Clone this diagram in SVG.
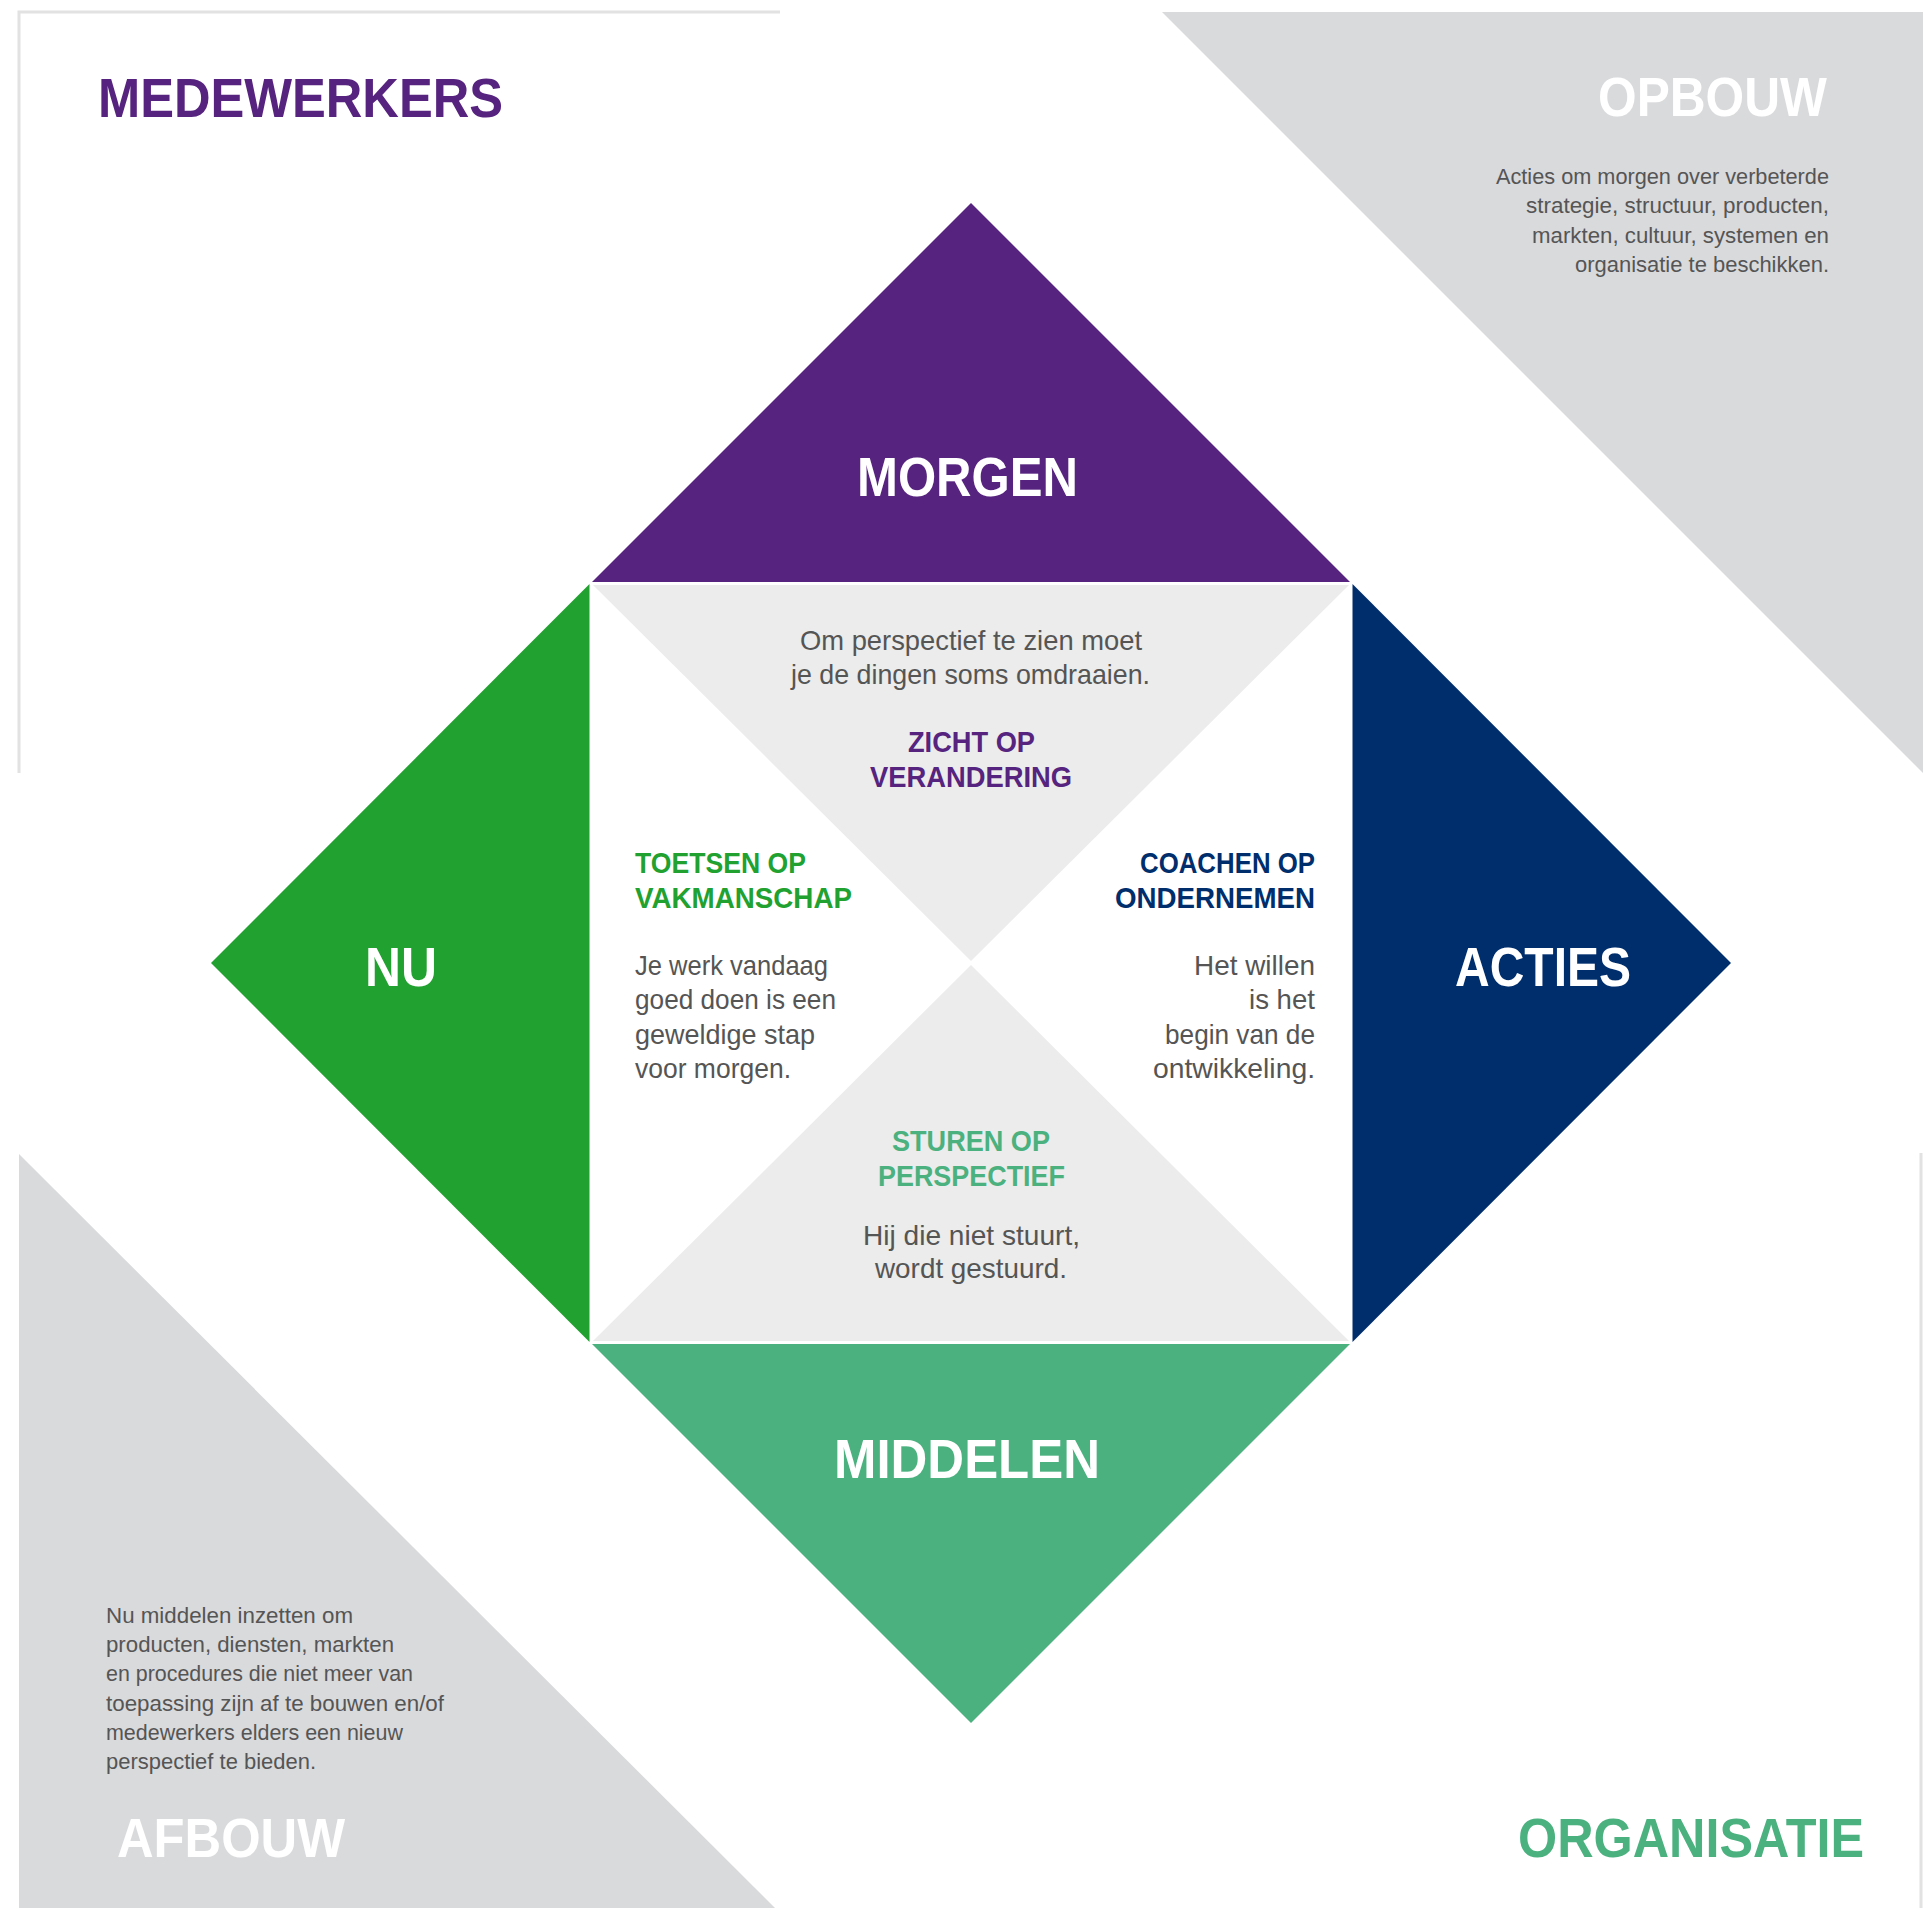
<svg xmlns="http://www.w3.org/2000/svg" width="1923" height="1908" viewBox="0 0 1923 1908">
<style>
.h{font-family:"Liberation Sans","Open Sans",sans-serif;font-weight:bold;font-size:56px}
.l{font-family:"Liberation Sans","Open Sans",sans-serif;font-weight:bold;font-size:30px}
.b{font-family:"Liberation Sans","Open Sans",sans-serif;font-size:28px;fill:#555555}
.s{font-family:"Liberation Sans","Open Sans",sans-serif;font-size:22px;fill:#555555}
.w{fill:#ffffff}
.pur{fill:#56237f}
.grn{fill:#21a12f}
.nav{fill:#002e6d}
.mgr{fill:#4bb17f}
.frame{fill:none;stroke:#e2e2e2;stroke-width:3}
</style>
<rect x="0" y="0" width="1923" height="1908" fill="#ffffff"/>
<g id="background">
<polygon points="1162,12 1923,12 1923,773" fill="#d9dadc"/>
<polygon points="19,1154 19,1908 775,1908" fill="#d9dadc"/>
<polyline class="frame" points="780,12 19,12 19,773"/>
<line class="frame" x1="1921" y1="1153" x2="1921" y2="1908"/>
</g>
<g id="corner-medewerkers">
<text class="h pur" x="98" y="117" textLength="405" lengthAdjust="spacingAndGlyphs">MEDEWERKERS</text>
</g>
<g id="corner-opbouw">
<text class="h w" x="1598" y="116" textLength="229" lengthAdjust="spacingAndGlyphs">OPBOUW</text>
<text class="s" x="1496" y="184" textLength="333" lengthAdjust="spacingAndGlyphs">Acties om morgen over verbeterde</text>
<text class="s" x="1526" y="213" textLength="303" lengthAdjust="spacingAndGlyphs">strategie, structuur, producten,</text>
<text class="s" x="1532" y="243" textLength="297" lengthAdjust="spacingAndGlyphs">markten, cultuur, systemen en</text>
<text class="s" x="1575" y="272" textLength="254" lengthAdjust="spacingAndGlyphs">organisatie te beschikken.</text>
</g>
<g id="corner-afbouw">
<text class="s" x="106" y="1623" textLength="247" lengthAdjust="spacingAndGlyphs">Nu middelen inzetten om</text>
<text class="s" x="106" y="1652" textLength="288" lengthAdjust="spacingAndGlyphs">producten, diensten, markten</text>
<text class="s" x="106" y="1681" textLength="307" lengthAdjust="spacingAndGlyphs">en procedures die niet meer van</text>
<text class="s" x="106" y="1711" textLength="338" lengthAdjust="spacingAndGlyphs">toepassing zijn af te bouwen en/of</text>
<text class="s" x="106" y="1740" textLength="297" lengthAdjust="spacingAndGlyphs">medewerkers elders een nieuw</text>
<text class="s" x="106" y="1769" textLength="210" lengthAdjust="spacingAndGlyphs">perspectief te bieden.</text>
<text class="h w" x="117" y="1857" textLength="228" lengthAdjust="spacingAndGlyphs">AFBOUW</text>
</g>
<g id="corner-organisatie">
<text class="h mgr" x="1518" y="1857" textLength="346" lengthAdjust="spacingAndGlyphs">ORGANISATIE</text>
</g>
<g id="inner">
<polygon points="593,585 1349,585 971,961" fill="#ebeceb"/>
<polygon points="593,1341 1349,1341 971,965" fill="#ebeceb"/>
</g>
<g id="morgen">
<polygon class="pur" points="971,203 1350,582 592,582"/>
<text class="h w" x="857" y="496" textLength="221" lengthAdjust="spacingAndGlyphs">MORGEN</text>
</g>
<g id="nu">
<polygon class="grn" points="211,963 589.5,584 589.5,1342"/>
<text class="h w" x="365" y="986" textLength="72" lengthAdjust="spacingAndGlyphs">NU</text>
</g>
<g id="acties">
<polygon class="nav" points="1731,963 1352.5,584 1352.5,1342"/>
<text class="h w" x="1455" y="986" textLength="176" lengthAdjust="spacingAndGlyphs">ACTIES</text>
</g>
<g id="middelen">
<polygon class="mgr" points="971,1723 1350,1344 592,1344"/>
<text class="h w" x="834" y="1478" textLength="266" lengthAdjust="spacingAndGlyphs">MIDDELEN</text>
</g>
<g id="zicht">
<text class="b" x="800" y="650" textLength="342" lengthAdjust="spacingAndGlyphs">Om perspectief te zien moet</text>
<text class="b" x="791" y="684" textLength="359" lengthAdjust="spacingAndGlyphs">je de dingen soms omdraaien.</text>
<text class="l pur" x="908" y="752" textLength="127" lengthAdjust="spacingAndGlyphs">ZICHT OP</text>
<text class="l pur" x="870" y="787" textLength="202" lengthAdjust="spacingAndGlyphs">VERANDERING</text>
</g>
<g id="toetsen">
<text class="l grn" x="635" y="873" textLength="171" lengthAdjust="spacingAndGlyphs">TOETSEN OP</text>
<text class="l grn" x="635" y="908" textLength="217" lengthAdjust="spacingAndGlyphs">VAKMANSCHAP</text>
<text class="b" x="635" y="975" textLength="193" lengthAdjust="spacingAndGlyphs">Je werk vandaag</text>
<text class="b" x="635" y="1009" textLength="201" lengthAdjust="spacingAndGlyphs">goed doen is een</text>
<text class="b" x="635" y="1044" textLength="180" lengthAdjust="spacingAndGlyphs">geweldige stap</text>
<text class="b" x="635" y="1078" textLength="156" lengthAdjust="spacingAndGlyphs">voor morgen.</text>
</g>
<g id="coachen">
<text class="l nav" x="1140" y="873" textLength="175" lengthAdjust="spacingAndGlyphs">COACHEN OP</text>
<text class="l nav" x="1115" y="908" textLength="200" lengthAdjust="spacingAndGlyphs">ONDERNEMEN</text>
<text class="b" x="1194" y="975" textLength="121" lengthAdjust="spacingAndGlyphs">Het willen</text>
<text class="b" x="1249" y="1009" textLength="66" lengthAdjust="spacingAndGlyphs">is het</text>
<text class="b" x="1165" y="1044" textLength="150" lengthAdjust="spacingAndGlyphs">begin van de</text>
<text class="b" x="1153" y="1078" textLength="162" lengthAdjust="spacingAndGlyphs">ontwikkeling.</text>
</g>
<g id="sturen">
<text class="l mgr" x="892" y="1151" textLength="158" lengthAdjust="spacingAndGlyphs">STUREN OP</text>
<text class="l mgr" x="878" y="1186" textLength="187" lengthAdjust="spacingAndGlyphs">PERSPECTIEF</text>
<text class="b" x="863" y="1245" textLength="217" lengthAdjust="spacingAndGlyphs">Hij die niet stuurt,</text>
<text class="b" x="875" y="1278" textLength="192" lengthAdjust="spacingAndGlyphs">wordt gestuurd.</text>
</g>
</svg>
